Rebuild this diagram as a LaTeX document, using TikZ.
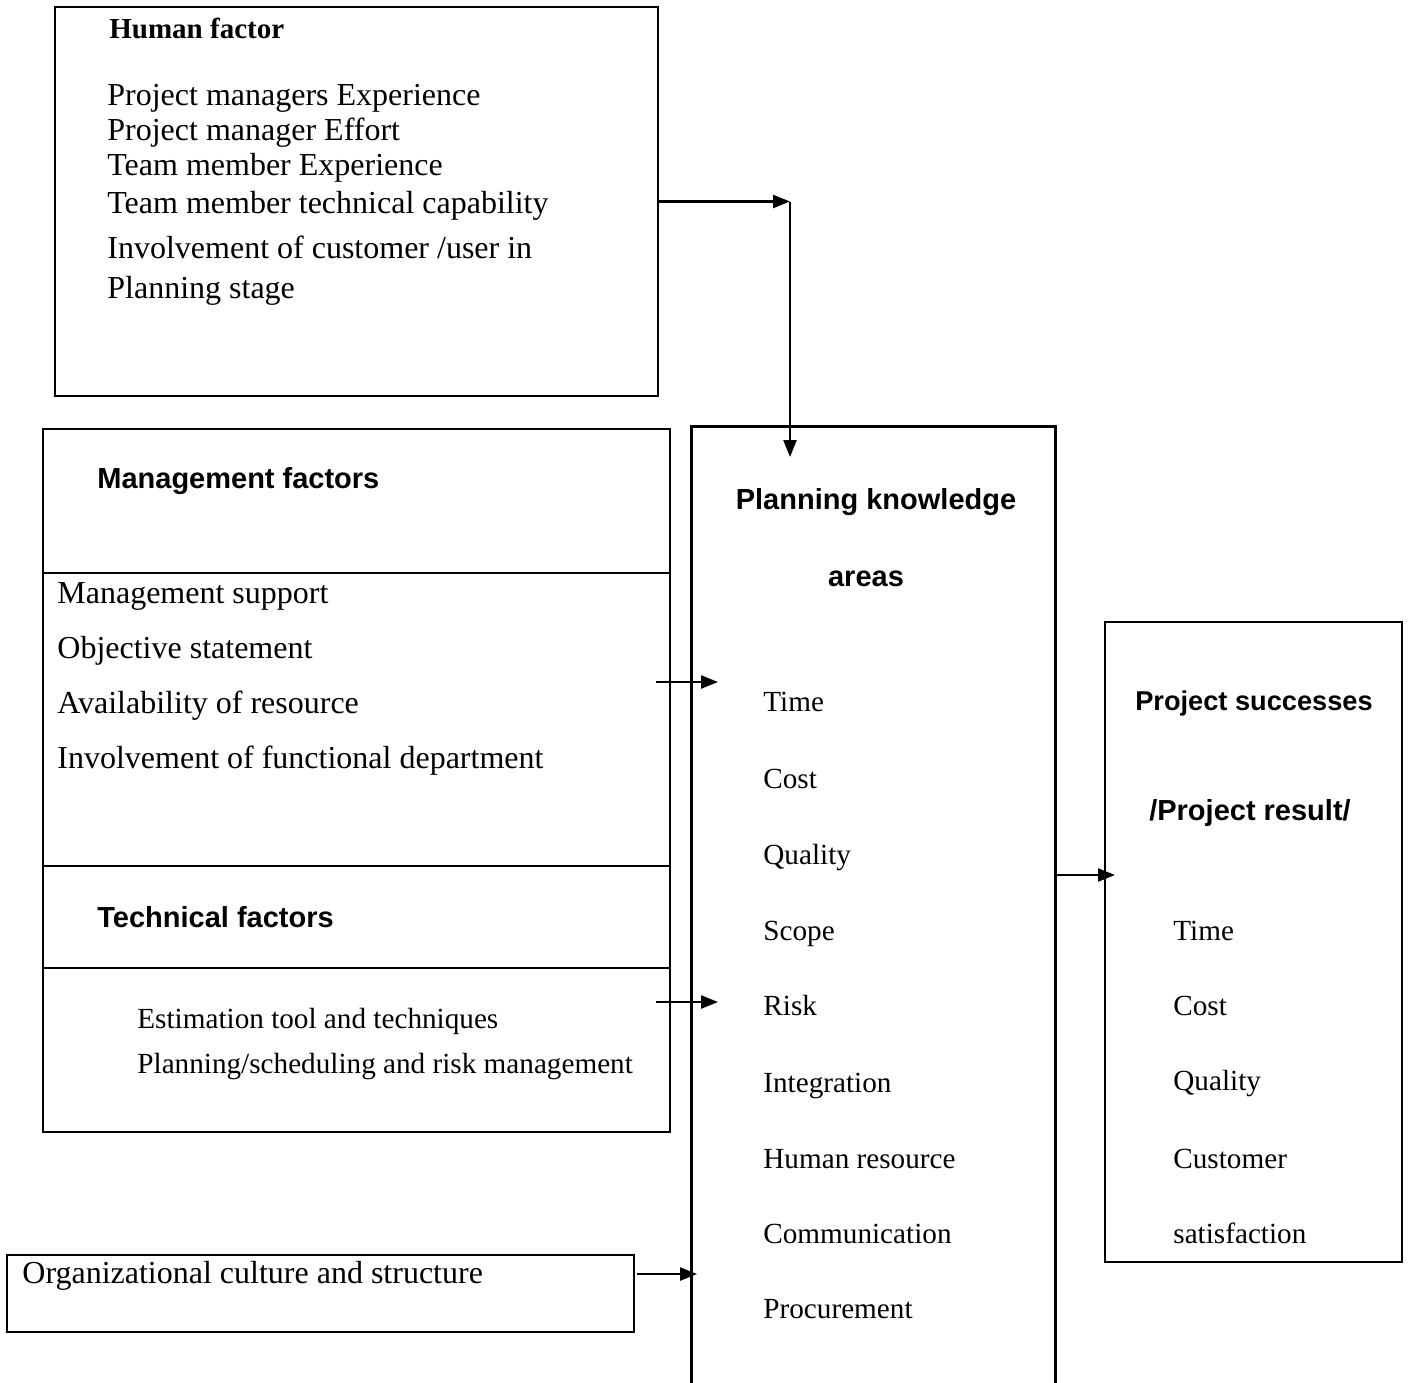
\documentclass[tikz,border=0pt]{standalone}
\usepackage{fontspec}
\setmainfont{Liberation Serif}
\newfontfamily\headsans{Liberation Sans}
\usetikzlibrary{arrows.meta,fit}

\tikzset{
  box/.style={draw, line width=1.2pt, inner sep=0pt},
  item/.style={anchor=base west, inner sep=0pt, font=\fontsize{16}{19}\selectfont},
  smallitem/.style={item, font=\fontsize{14.6}{17}\selectfont},
  head/.style={anchor=base west, inner sep=0pt, font=\headsans\bfseries\fontsize{14.5}{17}\selectfont},
  arr/.style={-{Triangle[length=8.5pt,width=6.5pt]}, line width=1.2pt},
}

\begin{document}
\begin{tikzpicture}[x=0.5pt,y=-0.5pt]
\useasboundingbox (0,0) rectangle (1408,1382);

% Human factor box
\node[box, fit={(55,7) (658,396)}] (human) {};
\node[anchor=base west, inner sep=0pt, font=\bfseries\fontsize{14.5}{17}\selectfont] (hhead) at (109,38) {Human factor};
\foreach \i/\y/\txt in {1/105/Project managers Experience, 2/140/Project manager Effort,
    3/175/Team member Experience, 4/213/Team member technical capability,
    5/258/{Involvement of customer /user in}, 6/298/Planning stage} {
    \node[item] (h\i) at (107,\y) {\txt};
}

% Management and technical factors box
\node[box, fit={(43,429) (670,1132)}] (mgmt) {};
\draw[line width=1.2pt] (mgmt.west |- 0,573) -- (mgmt.east |- 0,573);
\draw[line width=1.2pt] (mgmt.west |- 0,866) -- (mgmt.east |- 0,866);
\draw[line width=1.2pt] (mgmt.west |- 0,968) -- (mgmt.east |- 0,968);
\node[head] (mhead) at (97,488) {Management factors};
\foreach \i/\y/\txt in {1/603/Management support, 2/658/Objective statement,
    3/713/Availability of resource, 4/768/Involvement of functional department} {
    \node[item] (m\i) at (57,\y) {\txt};
}
\node[head] (thead) at (97,927) {Technical factors};
\node[smallitem] (t1) at (137,1028) {Estimation tool and techniques};
\node[smallitem] (t2) at (137,1073) {Planning/scheduling and risk management};

% Organizational box
\node[box, fit={(7,1255) (634,1332)}] (org) {};
\node[item] (o1) at (22,1283) {Organizational culture and structure};

% Planning knowledge areas (open at the bottom)
\node[inner sep=0pt, fit={(692,427) (1055,1400)}] (plan) {};
\draw[line width=1.4pt] (plan.south west) -- (plan.north west) -- (plan.north east) -- (plan.south east);
\node[head, anchor=base] (phead1) at (876,509) {Planning knowledge};
\node[head, anchor=base] (phead2) at (866,586) {areas};
\foreach \i/\y/\txt in {1/711/Time, 2/788/Cost, 3/864/Quality, 4/940/Scope, 5/1015/Risk,
    6/1092/Integration, 7/1168/Human resource, 8/1243/Communication, 9/1318/Procurement} {
    \node[smallitem] (p\i) at (763,\y) {\txt};
}

% Project successes box
\node[box, line width=1.4pt, fit={(1105,622) (1402,1262)}] (succ) {};
\node[head, anchor=base, font=\headsans\bfseries\fontsize{13.6}{16}\selectfont] (shead1) at (1254,710) {Project successes};
\node[head, anchor=base] (shead2) at (1250,820) {/Project result/};
\foreach \i/\y/\txt in {1/940/Time, 2/1015/Cost, 3/1090/Quality, 4/1168/Customer, 5/1243/satisfaction} {
    \node[smallitem] (s\i) at (1173,\y) {\txt};
}

% Connectors
\coordinate (hturn) at (790,201.5);
\coordinate (ptop) at (790,457);
\draw[arr] (human.east) -- (hturn);
\draw[arr] (hturn) -- (ptop);

\coordinate (mfrom) at (656,682);
\coordinate (mto) at (718,682);
\draw[arr] (mfrom) -- (mto);
\coordinate (tfrom) at (656,1002);
\coordinate (tto) at (718,1002);
\draw[arr] (tfrom) -- (tto);

\coordinate (ofrom) at (637,1274);
\coordinate (oto) at (697,1274);
\draw[arr] (ofrom) -- (oto);

\coordinate (sto) at (1115,875);
\draw[arr] (plan.east |- sto) -- (sto);
\end{tikzpicture}
\end{document}
